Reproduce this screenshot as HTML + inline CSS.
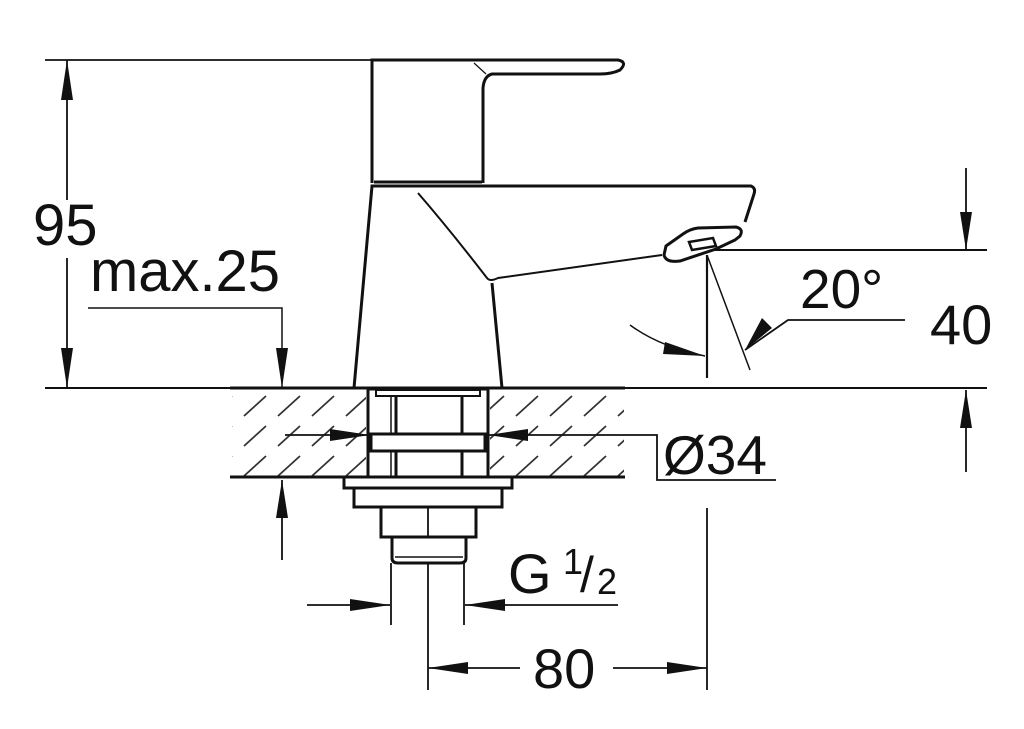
<!DOCTYPE html>
<html><head><meta charset="utf-8"><style>
html,body{margin:0;padding:0;background:#fff;}
svg{display:block;}
text{font-family:"Liberation Sans",Arial,sans-serif;fill:#111;}
</style></head><body>
<svg width="1024" height="729" viewBox="0 0 1024 729" xmlns="http://www.w3.org/2000/svg">
<defs>
<pattern id="h" patternUnits="userSpaceOnUse" width="34" height="30">
<line x1="6" y1="26" x2="28" y2="6" stroke="#333" stroke-width="1.8"/>
</pattern>
</defs>
<g stroke="#111" fill="none" stroke-width="2">
<rect x="232" y="390" width="392" height="86" fill="url(#h)" stroke="none"/>
<rect x="366" y="389" width="124" height="88" fill="#fff" stroke="none"/>
<line x1="45" y1="388" x2="987" y2="388" stroke-width="2"/>
<line x1="230" y1="388" x2="625" y2="388" stroke-width="3"/>
<line x1="230" y1="477" x2="625" y2="477" stroke-width="3"/>
<line x1="45" y1="60" x2="372" y2="60" stroke-width="1.8"/>
<line x1="67" y1="60" x2="67" y2="200" stroke-width="1.8"/>
<line x1="67" y1="258" x2="67" y2="388" stroke-width="1.8"/>
<polyline points="88,308 282,308 282,388" stroke-width="1.5"/>
<line x1="282" y1="480" x2="282" y2="560" stroke-width="1.8"/>
<path d="M372,183 L372,60 L618,60 Q628,62 620,70 Q612,74 600,74 L492,74 Q484,76 483,88 L483,183" stroke-width="3"/>
<line x1="474" y1="63" x2="486" y2="74" stroke-width="1.2"/>
<line x1="374" y1="182" x2="482" y2="182" stroke-width="3"/>
<path d="M354,388 L372,186 L751,186 Q756,188 754,194 L745,222" stroke-width="3"/>
<path d="M418,193 Q450,230 487,278 Q490,282 498,278 L662,255" stroke-width="2"/>
<path d="M492,283 L502,388" stroke-width="3"/>
<path d="M666,246 L683,234 Q690,229 698,228 L736,227 Q744,229 740,236 L735,240 L716,249 L680,261 Q666,263 664,255 Z" stroke-width="3" fill="#fff"/>
<path d="M689,242 L713,238 L716,246 L692,250 Z" stroke-width="2.5"/>
<line x1="707" y1="255" x2="707" y2="378" stroke-width="2.2"/>
<line x1="707" y1="255" x2="750" y2="370" stroke-width="1.5"/>
<path d="M630,325 Q660,347 705,356" stroke-width="1.5"/>
<polyline points="745,350 788,320 905,320" stroke-width="1.8"/>
<line x1="712" y1="250" x2="987" y2="250" stroke-width="2"/>
<line x1="966" y1="168" x2="966" y2="250" stroke-width="1.8"/>
<line x1="966" y1="390" x2="966" y2="472" stroke-width="1.8"/>
<rect x="368" y="389" width="120" height="88" stroke-width="3"/>
<rect x="376" y="390" width="104" height="6" stroke-width="2"/>
<line x1="391" y1="396" x2="391" y2="477" stroke-width="1.5"/>
<line x1="396" y1="396" x2="396" y2="477" stroke-width="3"/>
<line x1="462" y1="396" x2="462" y2="477" stroke-width="3"/>
<rect x="371" y="434" width="114" height="17" stroke-width="3" fill="#fff"/>
<rect x="344" y="477" width="168" height="11" stroke-width="3" fill="#fff"/>
<rect x="354" y="488" width="148" height="19" stroke-width="3" fill="#fff"/>
<rect x="381" y="507" width="95" height="30" stroke-width="3" fill="#fff"/>
<line x1="428" y1="507" x2="428" y2="537" stroke-width="1.8"/>
<path d="M392,537 L392,558 Q392,563 398,563 L460,563 Q466,563 466,558 L466,537" stroke-width="3"/>
<line x1="395" y1="557" x2="463" y2="557" stroke-width="1.5"/>
<line x1="285" y1="435" x2="370" y2="435" stroke-width="1.8"/>
<polyline points="488,435 657,435 657,480 776,480" stroke-width="1.8"/>
<line x1="391" y1="563" x2="391" y2="625" stroke-width="1.8"/>
<line x1="464" y1="563" x2="464" y2="625" stroke-width="1.8"/>
<line x1="307" y1="605" x2="390" y2="605" stroke-width="1.8"/>
<line x1="465" y1="605" x2="618" y2="605" stroke-width="1.8"/>
<line x1="428" y1="563" x2="428" y2="690" stroke-width="1.8"/>
<line x1="707" y1="508" x2="707" y2="690" stroke-width="1.8"/>
<line x1="428" y1="668" x2="520" y2="668" stroke-width="1.8"/>
<line x1="613" y1="668" x2="707" y2="668" stroke-width="1.8"/>
</g>
<g fill="#111">
<polygon points="67,60 61,100 73,100"/>
<polygon points="67,388 61,348 73,348"/>
<polygon points="282,388 276,348 288,348"/>
<polygon points="282,480 276,518 288,518"/>
<polygon points="966,250 960,212 972,212"/>
<polygon points="966,390 960,428 972,428"/>
<polygon points="370,435 330,429 330,441"/>
<polygon points="488,435 528,429 528,441"/>
<polygon points="390,605 350,599 350,611"/>
<polygon points="465,605 505,599 505,611"/>
<polygon points="428,668 468,662 468,674"/>
<polygon points="707,668 667,662 667,674"/>
<polygon points="705,356 665,342 663,354"/>
<polygon points="745,350 762,318 772,328"/>
</g>
<text x="33" y="245" font-size="58">95</text>
<text x="90" y="291" font-size="58" textLength="190" lengthAdjust="spacingAndGlyphs">max.25</text>
<text x="800" y="308" font-size="55">20°</text>
<text x="930" y="344" font-size="56">40</text>
<text x="663" y="474" font-size="55">Ø34</text>
<text x="508" y="593" font-size="56">G</text>
<text x="563" y="574" font-size="36">1</text>
<text x="580" y="592" font-size="50">/</text>
<text x="597" y="594" font-size="36">2</text>
<text x="533" y="688" font-size="56">80</text>
</svg>
</body></html>
